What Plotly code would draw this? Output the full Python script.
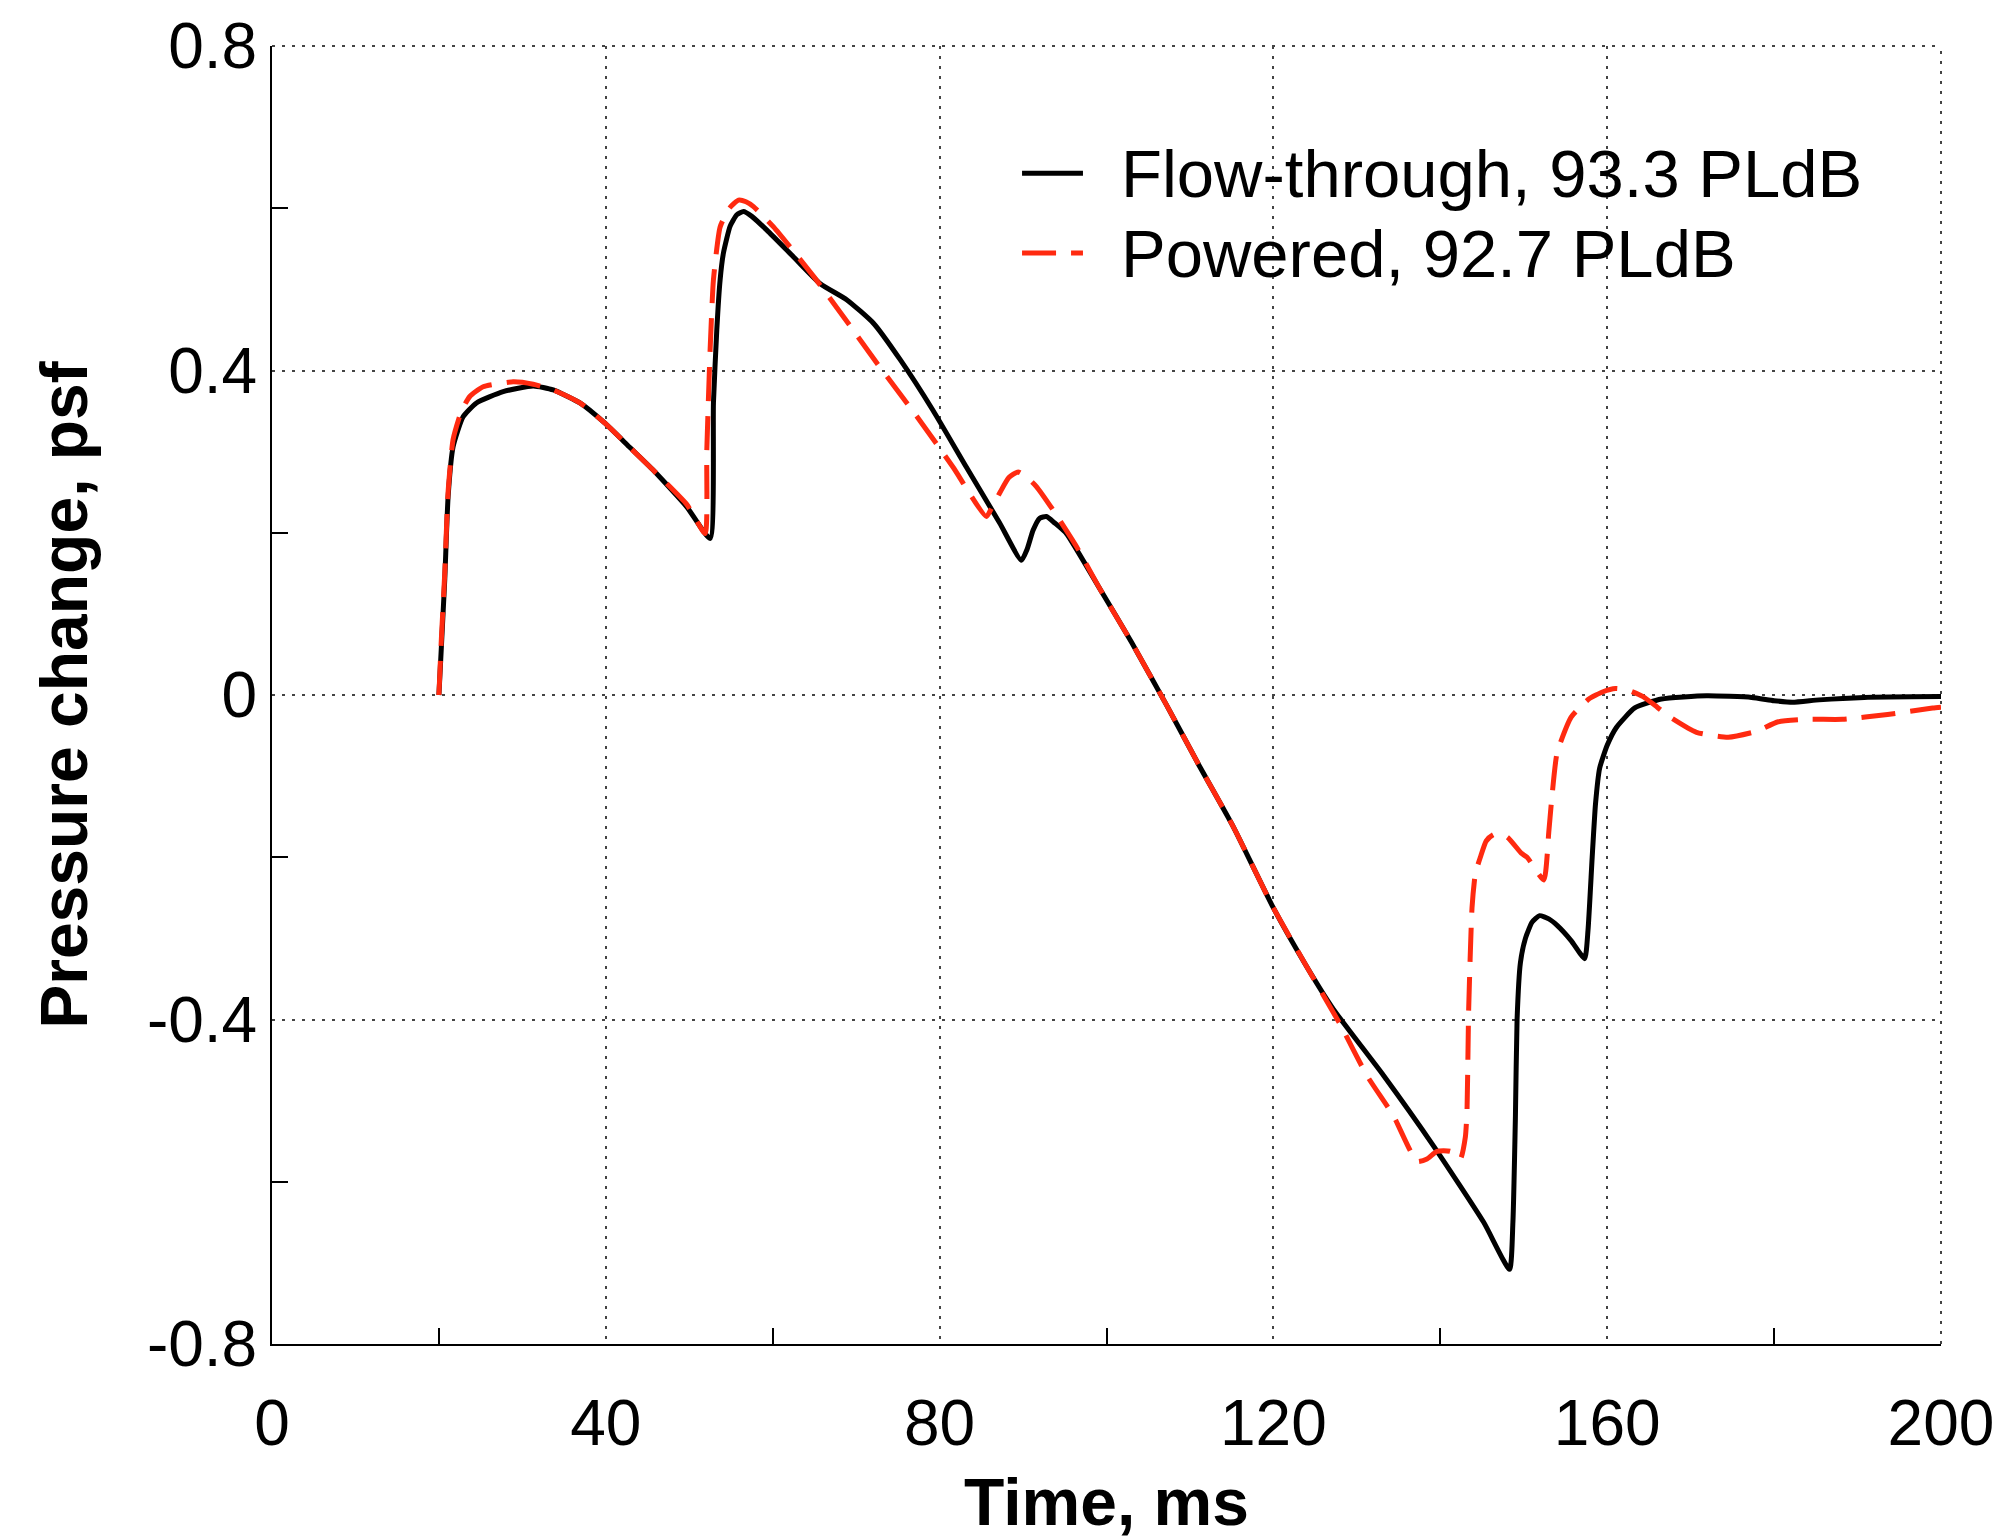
import plotly.graph_objects as go

# ---- data ----
t_flow = [20.0, 20.3, 20.7, 21.1, 21.7, 22.9, 24.5, 27.7, 31.3, 33.7, 36.9, 39.9, 42.8, 45.7,
          49.7, 52.5, 52.9, 53.3, 53.7, 54.1, 54.9, 55.7, 56.5, 57.5, 59.3, 62.5, 65.7, 68.9,
          72.1, 75.3, 79.2, 83.2, 87.2, 89.8, 90.5, 91.2, 92.0, 92.8, 93.8, 95.2, 99.2, 103.0,
          107.2, 111.0, 115.2, 120.0, 124.0, 127.2, 133.2, 139.2, 145.2, 148.3, 148.7, 149.0,
          149.2, 149.6, 150.2, 151.0, 151.9, 153.0, 154.0, 155.7, 157.3, 157.7, 158.2, 158.6,
          159.1, 160.0, 161.1, 163.3, 166.5, 171.9, 177.3, 180.0, 182.2, 185.4, 190.8, 200.0]
p_flow = [0.0, 0.06, 0.142, 0.244, 0.306, 0.343, 0.36, 0.374, 0.381, 0.376, 0.36, 0.335, 0.306,
          0.277, 0.232, 0.193, 0.36, 0.45, 0.512, 0.545, 0.578, 0.592, 0.596, 0.59, 0.573, 0.54,
          0.507, 0.487, 0.458, 0.413, 0.351, 0.281, 0.212, 0.166, 0.18, 0.203, 0.218, 0.22,
          0.212, 0.199, 0.131, 0.065, -0.0125, -0.085, -0.1625, -0.2625, -0.335, -0.3875,
          -0.469, -0.556, -0.65, -0.708, -0.65, -0.52, -0.40, -0.33, -0.30, -0.28, -0.272,
          -0.276, -0.284, -0.303, -0.325, -0.29, -0.20, -0.134, -0.09, -0.062, -0.04, -0.016,
          -0.005, -0.001, -0.003, -0.007, -0.009, -0.006, -0.003, -0.002]

t_pow = [20.0, 20.3, 20.7, 21.1, 21.7, 22.7, 23.7, 25.3, 28.9, 31.3, 33.7, 36.9, 39.9, 42.8,
         45.7, 49.7, 51.9, 52.1, 52.5, 52.9, 53.7, 54.8, 55.9, 56.8, 57.7, 60.1, 64.9, 68.5,
         72.5, 77.3, 81.6, 85.6, 86.3, 87.2, 88.3, 89.4, 90.5, 91.6, 93.6, 96.4, 99.2, 103.0,
         107.2, 111.0, 115.2, 120.0, 124.0, 128.0, 131.2, 134.4, 137.2, 138.4, 139.6, 141.2,
         142.4, 143.0, 143.2, 143.4, 143.8, 144.2, 144.8, 145.5, 146.4, 148.0, 149.7, 150.4,
         152.4, 153.0, 153.3, 154.0, 155.7, 157.8, 159.5, 161.0, 162.5, 164.3, 166.0, 167.5,
         170.7, 174.5, 177.8, 180.5, 184.0, 188.2, 193.6, 199.0, 200.0]
p_pow = [0.0, 0.07, 0.15, 0.25, 0.315, 0.35, 0.368, 0.38, 0.386, 0.383, 0.376, 0.36, 0.335,
         0.306, 0.277, 0.235, 0.199, 0.30, 0.425, 0.512, 0.577, 0.60, 0.61, 0.608, 0.602, 0.577,
         0.516, 0.466, 0.409, 0.343, 0.281, 0.22, 0.232, 0.249, 0.268, 0.275, 0.268, 0.257,
         0.228, 0.183, 0.131, 0.065, -0.0125, -0.085, -0.1625, -0.2625, -0.335, -0.406, -0.469,
         -0.519, -0.575, -0.572, -0.5625, -0.5625, -0.572, -0.545, -0.5125, -0.3875, -0.2625,
         -0.22, -0.2, -0.18, -0.172, -0.175, -0.195, -0.2, -0.228, -0.169, -0.134, -0.071,
         -0.027, -0.005, 0.004, 0.008, 0.006, -0.002, -0.015, -0.027, -0.046, -0.052, -0.045,
         -0.033, -0.03, -0.03, -0.024, -0.016, -0.015]

series_names = ["Flow-through, 93.3 PLdB", "Powered, 92.7 PLdB"]
x_ticks = [0, 40, 80, 120, 160, 200]
y_ticks = [-0.8, -0.4, 0, 0.4, 0.8]
y_tick_labels = ["-0.8", "-0.4", "0", "0.4", "0.8"]

FONT = "Liberation Sans, Arial, Helvetica, sans-serif"
RED = "#ff2a10"
RED_DASH = "34px,15px"
GRID_DASH = "3px,7px"
GRID_COLOR = "#444"

fig = go.Figure()
fig.add_trace(go.Scatter(x=t_flow, y=p_flow, mode="lines", name=series_names[0],
                         line=dict(color="black", width=5, shape="spline", smoothing=0.5),
                         showlegend=False))
fig.add_trace(go.Scatter(x=t_pow, y=p_pow, mode="lines", name=series_names[1],
                         line=dict(color=RED, width=5, dash=RED_DASH, shape="spline",
                                   smoothing=0.5),
                         showlegend=False))

# legend drawn by hand so the sample lines match the reference length
legend_rows = [(0.902, "black", "solid"), (0.8405, RED, RED_DASH)]
for (yy, col, dsh), name in zip(legend_rows, series_names):
    fig.add_shape(type="line", xref="paper", yref="paper", x0=0.4494, x1=0.4859, y0=yy, y1=yy,
                  line=dict(color=col, width=5, dash=dsh))
    fig.add_annotation(xref="paper", yref="paper", x=0.5075, y=yy, xanchor="left",
                       yanchor="middle", text=name, showarrow=False,
                       font=dict(family=FONT, size=67, color="black"))

# dotted frame on top and right edges (grid lines at the range limits)
fig.add_shape(type="line", xref="paper", yref="paper", x0=0, x1=1, y0=1, y1=1,
              line=dict(color=GRID_COLOR, width=2, dash=GRID_DASH), layer="below")
fig.add_shape(type="line", xref="paper", yref="paper", x0=1, x1=1, y0=0, y1=1,
              line=dict(color=GRID_COLOR, width=2, dash=GRID_DASH), layer="below")

grid_common = dict(showgrid=True, gridcolor=GRID_COLOR, gridwidth=2, griddash=GRID_DASH,
                   zeroline=False, showline=True, linecolor="black", linewidth=2,
                   ticks="", tickfont=dict(family=FONT, size=64, color="black"))

fig.update_xaxes(range=[0, 200], tickvals=x_ticks, ticktext=[str(v) for v in x_ticks],
                 title=dict(text="<b>Time, ms</b>", font=dict(family=FONT, size=66, color="black"),
                            standoff=52),
                 minor=dict(ticks="inside", ticklen=16, tickwidth=2, tickcolor="black",
                            tick0=20, dtick=40, showgrid=False),
                 ticklabelstandoff=22, **grid_common)
fig.update_yaxes(range=[-0.8, 0.8], tickvals=y_ticks, ticktext=y_tick_labels,
                 title=dict(text="<b>Pressure change, psf</b>",
                            font=dict(family=FONT, size=66, color="black"), standoff=38),
                 minor=dict(ticks="inside", ticklen=16, tickwidth=2, tickcolor="black",
                            tick0=0.2, dtick=0.4, showgrid=False),
                 ticklabelstandoff=0, **grid_common)

fig.update_layout(width=2010, height=1539, paper_bgcolor="white", plot_bgcolor="white",
                  margin=dict(l=272, r=69, t=46, b=195, autoexpand=False),
                  font=dict(family=FONT, color="black"))

fig.write_html("out.html")
